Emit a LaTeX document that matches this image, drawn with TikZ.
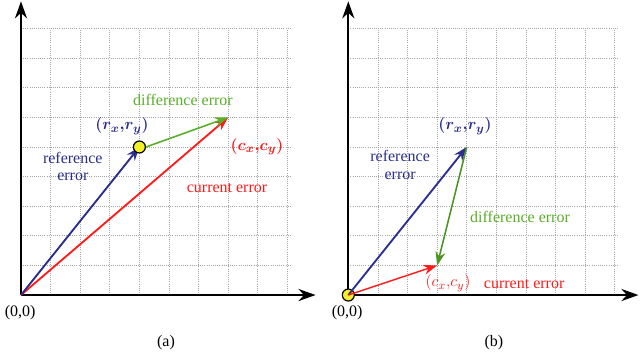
\documentclass[tikz,border=0pt]{standalone}
\usepackage{fontspec}
\setmainfont{Liberation Serif}
\usepackage{tikz}
\usetikzlibrary{arrows.meta}
\definecolor{refblue}{HTML}{2B2E8C}
\definecolor{curred}{HTML}{FF1A1A}
\definecolor{difgreen}{HTML}{5AAE2A}
\definecolor{dotyel}{HTML}{F2F028}
\tikzset{
  axis/.style={-{Stealth[length=4.5mm,width=3.2mm]}, line width=1.4pt},
  gridline/.style={gray!70, densely dotted, line width=0.6pt},
  vec/.style={-{Stealth[length=3.6mm,width=2.6mm]}},
  refvec/.style={vec, refblue, line width=1.4pt},
  curvec/.style={vec, curred, line width=1.1pt},
  difvec/.style={vec, difgreen, line width=1.2pt},
  lbl/.style={font=\fontsize{12}{13}\selectfont, inner sep=1pt},
  mlbl/.style={font=\fontsize{13}{14}\selectfont\boldmath, inner sep=1pt},
  spot/.style={circle, draw=black, fill=dotyel, line width=0.9pt, minimum size=9pt, inner sep=0pt},
}
\newcommand{\panelgrid}{%
  \foreach \k in {1,...,9} {
    \draw[gridline] (\k,0) -- (\k,9);
    \draw[gridline] (0,\k) -- (9.1,\k);
  }}
\begin{document}
\begin{tikzpicture}[x=22.2pt,y=22.2pt]
  \useasboundingbox (-0.709,-2.297) rectangle (20.91,9.966);

  % (a): reference point off the origin
  \begin{scope}
    \panelgrid
    \coordinate (oa) at (0,0);
    \coordinate (ra) at (4,5);
    \coordinate (ca) at (7,6);
    \coordinate (xa) at (9.95,0);
    \coordinate (ya) at (0,9.92);
    \draw[axis] (oa) -- (xa);
    \draw[axis] (oa) -- (ya);
    \draw[curvec, line width=1.4pt] (oa) -- (ca);
    \draw[refvec] (oa) -- (ra);
    \node[spot] (sa) at (ra) {};
    \draw[difvec] (sa.east) -- (ca);
    \node[lbl, text=difgreen] (da) at (5.47,6.6) {difference error};
    \node[mlbl, text=refblue] (rla) at (3.41,5.7) {$(r_x{,}r_y)$};
    \node[mlbl, text=curred] (cla) at (7.97,5.02) {$(c_x{,}c_y)$};
    \node[lbl, text=refblue, align=center] (ela) at (1.75,4.35) {reference\\error};
    \node[lbl, text=curred] (cea) at (6.96,3.61) {current error};
    \node[lbl] (zla) at (-0.03,-0.61) {(0,0)};
    \node[lbl] (capa) at (4.9,-1.62) {(a)};
  \end{scope}

  % (b): reference point at the origin
  \begin{scope}[xshift=11.057*22.2pt]
    \panelgrid
    \coordinate (ob) at (0,0);
    \coordinate (rb) at (4,5);
    \coordinate (cb) at (3,1);
    \coordinate (xb) at (9.8,0);
    \coordinate (yb) at (0,9.92);
    \draw[axis] (ob) -- (xb);
    \draw[axis] (ob) -- (yb);
    \node[spot] (sb) at (ob) {};
    \draw[refvec] (ob) -- (rb);
    \draw[curvec] (ob) -- (cb);
    \draw[difvec, difgreen!85!black] (rb) -- (cb);
    \node[mlbl, text=refblue] (rlb) at (3.94,5.7) {$(r_x{,}r_y)$};
    \node[lbl, text=refblue, align=center] (elb) at (1.75,4.39) {reference\\error};
    \node[lbl, text=difgreen] (db) at (5.8,2.64) {difference error};
    \node[mlbl, text=curred, font=\fontsize{13}{14}\selectfont] (clb) at (3.37,0.4) {$(c_x{,}c_y)$};
    \node[lbl, text=curred] (ceb) at (5.94,0.37) {current error};
    \node[lbl] (zlb) at (-0.04,-0.61) {(0,0)};
    \node[lbl] (capb) at (4.92,-1.62) {(b)};
  \end{scope}
\end{tikzpicture}
\end{document}
